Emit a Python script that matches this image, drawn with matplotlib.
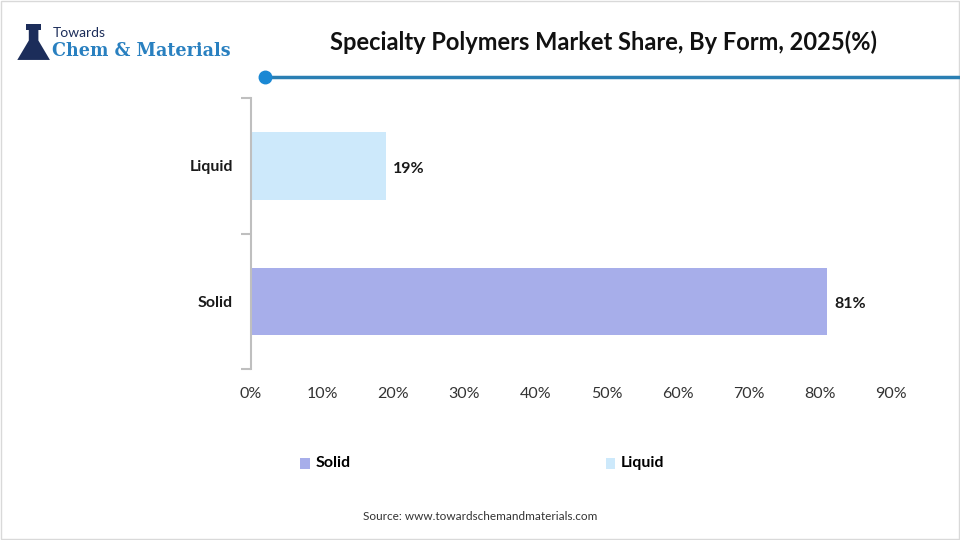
import numpy as np
import matplotlib.pyplot as plt
from matplotlib.patches import Polygon, Rectangle

forms = ['Solid', 'Liquid']
shares = [81, 19]
bar_colors = ['#a7aeea', '#cde9fb']
x_ticks = [0, 10, 20, 30, 40, 50, 60, 70, 80, 90]

title = 'Specialty Polymers Market Share, By Form, 2025(%)'
source = 'Source: www.towardschemandmaterials.com'

plt.rcParams['font.family'] = ['Lato', 'DejaVu Sans']

fig = plt.figure(figsize=(9.6, 5.4), dpi=100)
fig.patch.set_facecolor('white')

# light border around the whole image
fig.add_artist(Rectangle((0.001, 0.001), 0.998, 0.998, transform=fig.transFigure,
                         fill=False, edgecolor='#d9d9d9', linewidth=1))

ax = fig.add_axes([0.2615, 0.3165, 0.6667, 0.5015])
y = np.arange(len(forms))
bars = ax.barh(y, shares, height=0.5, color=bar_colors)

for i, v in enumerate(shares):
    ax.text(v + 1.0, y[i] - 0.02, f'{v}%', va='center', ha='left',
            fontsize=11.5, fontweight='bold', color='#1a1a1a')

ax.set_xlim(0, 90)
ax.set_ylim(-0.5, 1.5)
ax.set_xticks(x_ticks)
ax.set_xticklabels([f'{t}%' for t in x_ticks], fontsize=11.5, color='#333333')
ax.tick_params(axis='x', length=0, pad=13)

ax.set_yticks(y)
ax.set_yticklabels(forms, fontsize=11.5, fontweight='bold', color='#1a1a1a')
ax.tick_params(axis='y', which='major', length=0, pad=13)
ax.set_yticks([-0.5, 0.5, 1.5], minor=True)
ax.tick_params(axis='y', which='minor', length=7, color='#bfbfbf', width=1.5)

for s in ['top', 'right', 'bottom']:
    ax.spines[s].set_visible(False)
ax.spines['left'].set_color('#bfbfbf')
ax.spines['left'].set_linewidth(1.5)

# title
fig.text(0.629, 0.922, title, ha='center', va='center', fontsize=17,
         fontweight='bold', color='#111111')

# header line with dot
fig.add_artist(plt.Line2D([0.276, 1.0], [0.857, 0.857], transform=fig.transFigure,
                          color='#2a7fb3', linewidth=2.5))
fig.add_artist(plt.Line2D([0.276], [0.857], transform=fig.transFigure, marker='o',
                          markersize=9, color='#1a88d4', linestyle='none'))

# logo
flask = Polygon([[0.018, 0.889], [0.052, 0.889], [0.040, 0.925], [0.040, 0.945],
                 [0.030, 0.945], [0.030, 0.925]], closed=True,
                transform=fig.transFigure, facecolor='#1c2d5a', edgecolor='none')
fig.add_artist(flask)
fig.add_artist(Rectangle((0.027, 0.945), 0.016, 0.01, transform=fig.transFigure,
                         facecolor='#1c2d5a', edgecolor='none'))
fig.text(0.055, 0.938, 'Towards', fontsize=10, color='#1c2d5a', va='center', ha='left')
fig.text(0.054, 0.905, 'Chem & Materials', fontsize=14, color='#2980c0', va='center',
         ha='left', family=['DejaVu Serif'], fontweight='bold', fontstretch='condensed')

# legend
leg_y = 1 - 463 / 540
fig.add_artist(Rectangle((0.313, leg_y - 0.011), 0.010, 0.02, transform=fig.transFigure,
                         facecolor=bar_colors[0], edgecolor='none'))
fig.text(0.329, leg_y, forms[0], fontsize=11.5, fontweight='bold', va='center', ha='left')
fig.add_artist(Rectangle((0.631, leg_y - 0.011), 0.010, 0.02, transform=fig.transFigure,
                         facecolor=bar_colors[1], edgecolor='none'))
fig.text(0.647, leg_y, forms[1], fontsize=11.5, fontweight='bold', va='center', ha='left')

fig.text(0.5, 1 - 516 / 540, source, fontsize=8.5, color='#333333', ha='center', va='center')

fig.savefig('out.png', dpi=100, facecolor='white')
